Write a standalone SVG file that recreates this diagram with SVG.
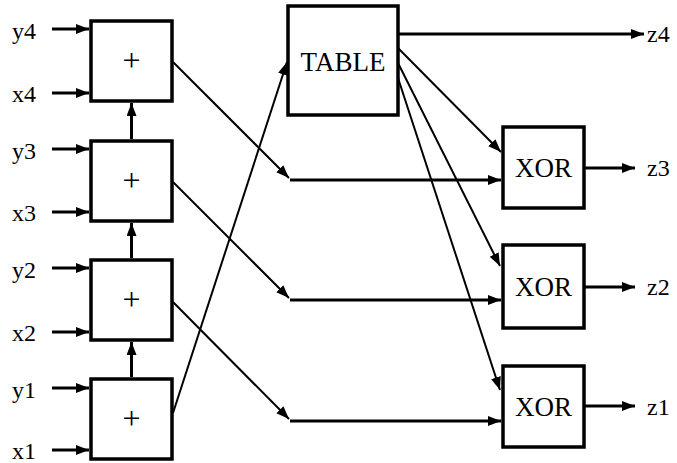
<svg xmlns="http://www.w3.org/2000/svg" width="677" height="463" viewBox="0 0 677 463">
  <defs>
    <marker id="arr" markerUnits="userSpaceOnUse" markerWidth="14" markerHeight="11" refX="13" refY="5" orient="auto">
      <path d="M0,0 L13,5 L0,10 z" fill="#000"/>
    </marker>
  </defs>
  <style>
    .box { fill: #fff; stroke: #000; stroke-width: 3.5; }
    text { font-family: 'Liberation Serif', Tinos, 'Times New Roman', Times, 'Noto Serif', 'DejaVu Serif', FreeSerif, serif; fill: #000; }
    .lbl { font-size: 24px; }
    .big { font-size: 27px; text-anchor: middle; }
    .plus { font-size: 32px; text-anchor: middle; }
    .thick { stroke: #000; stroke-width: 3; fill: none; }
    .thin { stroke: #000; stroke-width: 2; fill: none; }
  </style>
  <rect width="677" height="463" fill="#fff"/>

  <!-- input labels -->
  <g id="inputs">
    <text class="lbl" x="12" y="39">y4</text>
    <text class="lbl" x="12" y="102">x4</text>
    <text class="lbl" x="12" y="159">y3</text>
    <text class="lbl" x="12" y="221">x3</text>
    <text class="lbl" x="12" y="278">y2</text>
    <text class="lbl" x="12" y="341">x2</text>
    <text class="lbl" x="12" y="398">y1</text>
    <text class="lbl" x="12" y="459">x1</text>
  </g>

  <!-- output labels -->
  <g id="outputs">
    <text class="lbl" x="647" y="42">z4</text>
    <text class="lbl" x="647" y="176">z3</text>
    <text class="lbl" x="647" y="295">z2</text>
    <text class="lbl" x="647" y="415">z1</text>
  </g>

  <!-- adders -->
  <g id="add4">
    <rect class="box" x="91" y="21" width="81" height="80"/>
    <text class="plus" x="131.5" y="71">+</text>
  </g>
  <g id="add3">
    <rect class="box" x="91" y="141" width="81" height="80"/>
    <text class="plus" x="131.5" y="191">+</text>
  </g>
  <g id="add2">
    <rect class="box" x="91" y="260" width="81" height="80"/>
    <text class="plus" x="131.5" y="310">+</text>
  </g>
  <g id="add1">
    <rect class="box" x="91" y="379" width="81" height="80"/>
    <text class="plus" x="131.5" y="429">+</text>
  </g>

  <!-- lookup table -->
  <g id="table">
    <rect class="box" x="288" y="6" width="110" height="109"/>
    <text class="big" x="343" y="71">TABLE</text>
  </g>

  <!-- xor gates -->
  <g id="xor3">
    <rect class="box" x="503" y="127" width="81" height="81"/>
    <text class="big" x="543.5" y="177">XOR</text>
  </g>
  <g id="xor2">
    <rect class="box" x="503" y="245" width="81" height="83"/>
    <text class="big" x="543.5" y="296">XOR</text>
  </g>
  <g id="xor1">
    <rect class="box" x="503" y="366" width="81" height="81"/>
    <text class="big" x="543.5" y="416">XOR</text>
  </g>

  <g id="connectors">
    <!-- operand inputs -->
    <line class="thick" x1="52" y1="29" x2="89" y2="29" marker-end="url(#arr)"/>
    <line class="thick" x1="52" y1="93" x2="89" y2="93" marker-end="url(#arr)"/>
    <line class="thick" x1="52" y1="149" x2="89" y2="149" marker-end="url(#arr)"/>
    <line class="thick" x1="52" y1="212" x2="89" y2="212" marker-end="url(#arr)"/>
    <line class="thick" x1="52" y1="268" x2="89" y2="268" marker-end="url(#arr)"/>
    <line class="thick" x1="52" y1="332" x2="89" y2="332" marker-end="url(#arr)"/>
    <line class="thick" x1="52" y1="388" x2="89" y2="388" marker-end="url(#arr)"/>
    <line class="thick" x1="52" y1="450" x2="89" y2="450" marker-end="url(#arr)"/>

    <!-- carry chain -->
    <line class="thick" x1="131.5" y1="139" x2="131.5" y2="103" marker-end="url(#arr)"/>
    <line class="thick" x1="131.5" y1="258" x2="131.5" y2="223" marker-end="url(#arr)"/>
    <line class="thick" x1="131.5" y1="377" x2="131.5" y2="342" marker-end="url(#arr)"/>

    <!-- sums to xor gates -->
    <line class="thin" x1="173" y1="62" x2="289" y2="178" marker-end="url(#arr)"/>
    <line class="thin" x1="173" y1="182" x2="289" y2="298" marker-end="url(#arr)"/>
    <line class="thin" x1="173" y1="302" x2="289" y2="419" marker-end="url(#arr)"/>
    <line class="thick" x1="290" y1="180" x2="501" y2="180" marker-end="url(#arr)"/>
    <line class="thick" x1="290" y1="300" x2="501" y2="300" marker-end="url(#arr)"/>
    <line class="thick" x1="290" y1="421" x2="501" y2="421" marker-end="url(#arr)"/>

    <!-- lowest sum to table -->
    <line class="thin" x1="173" y1="413" x2="287" y2="62" marker-end="url(#arr)"/>

    <!-- table outputs -->
    <line class="thick" x1="399" y1="34" x2="644" y2="34" marker-end="url(#arr)"/>
    <line class="thin" x1="398" y1="48" x2="501" y2="152" marker-end="url(#arr)"/>
    <line class="thin" x1="398" y1="63" x2="500" y2="266" marker-end="url(#arr)"/>
    <line class="thin" x1="398" y1="78" x2="500" y2="390" marker-end="url(#arr)"/>

    <!-- xor outputs -->
    <line class="thick" x1="585" y1="168" x2="635" y2="168" marker-end="url(#arr)"/>
    <line class="thick" x1="585" y1="287" x2="635" y2="287" marker-end="url(#arr)"/>
    <line class="thick" x1="585" y1="406" x2="635" y2="406" marker-end="url(#arr)"/>
  </g>
</svg>
